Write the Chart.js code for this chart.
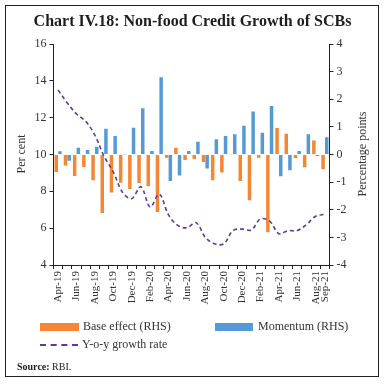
<!DOCTYPE html>
<html>
<head>
<meta charset="utf-8">
<script src="https://cdn.jsdelivr.net/npm/chart.js@4"></script>
<style>
  html, body { margin: 0; padding: 0; background: #fff; }
  #wrap { position: relative; width: 385px; height: 384px; overflow: hidden; font-family: "Liberation Serif", "DejaVu Serif", serif; color: #222; }
  #frame { position: absolute; left: 5px; top: 5px; width: 374px; height: 372px; border: 1px solid #222; box-sizing: border-box; }
  #title { position: absolute; left: 0; width: 385px; top: 12px; text-align: center; font-size: 16px; font-weight: bold; color: #1d1d1d; }
  canvas { position: absolute; left: 0; top: 0; }
  .ytitle { position: absolute; font-size: 12px; white-space: nowrap; transform: translate(-50%, -50%) rotate(-90deg); color: #333; }
  .leg { position: absolute; font-size: 12px; white-space: nowrap; color: #333; }
  .sw { position: absolute; }
  #src { position: absolute; left: 17px; top: 361px; font-size: 10px; color: #222; }
</style>
</head>
<body>
<div id="wrap">
  <canvas id="c" width="385" height="384"></canvas>
  <div id="frame"></div>
  <div id="title">Chart IV.18: Non-food Credit Growth of SCBs</div>
  <div class="ytitle" style="left:21px; top:154px;">Per cent</div>
  <div class="ytitle" style="left:362px; top:154px;">Percentage points</div>
  <div class="sw" style="left:40px; top:323px; width:39px; height:8px; background:#f58634;"></div>
  <div class="leg" style="left:83px; top:319px;">Base effect (RHS)</div>
  <div class="sw" style="left:215px; top:323px; width:38px; height:8px; background:#5599d6;"></div>
  <div class="leg" style="left:258px; top:319px;">Momentum (RHS)</div>
  <div class="sw" style="left:40px; top:344px; width:38px; height:0; border-top:2px dashed #5b3c96;"></div>
  <div class="leg" style="left:82px; top:337px;">Y-o-y growth rate</div>
  <div id="src"><b>Source:</b> RBI.</div>
</div>
<script>
const categories = ["Apr-19","May-19","Jun-19","Jul-19","Aug-19","Sep-19","Oct-19","Nov-19","Dec-19","Jan-20","Feb-20","Mar-20",
  "Apr-20","May-20","Jun-20","Jul-20","Aug-20","Sep-20","Oct-20","Nov-20","Dec-20","Jan-21","Feb-21","Mar-21",
  "Apr-21","May-21","Jun-21","Jul-21","Aug-21","Sep-21"];
const baseEffect = [-0.63,-0.40,-0.78,-0.45,-0.93,-2.12,-1.38,-1.02,-1.25,-1.03,-1.15,-2.08,
  -0.12,0.24,-0.20,-0.16,-0.27,-0.93,-0.65,-0.01,-0.96,-1.66,-0.12,-2.81,
  0.96,0.75,-0.13,-0.46,0.51,-0.53];
const momentum = [0.12,-0.23,0.24,0.16,0.28,0.93,0.67,0.01,0.97,1.67,0.13,2.80,
  -0.96,-0.76,0.13,0.46,-0.51,0.55,0.67,0.73,1.04,1.56,0.79,1.76,
  -0.79,-0.57,0.13,0.73,-0.05,0.62];
const yoyGrowth = [13.5,12.8,12.2,11.8,11.05,9.9,9.05,7.95,7.6,8.25,7.15,7.85,
  6.72,6.15,6.02,6.3,5.5,5.15,5.15,5.87,5.95,5.9,6.5,6.38,
  5.7,5.87,5.87,6.2,6.65,6.75];
const leftTicks = [4,6,8,10,12,14,16];
const rightTicks = [-4,-3,-2,-1,0,1,2,3,4];

const tickFont = { family: "Liberation Serif", size: 12 };
new Chart(document.getElementById('c'), {
  type: 'bar',
  data: {
    labels: categories,
    datasets: [
      { type: 'line', label: 'Y-o-y growth rate', data: yoyGrowth, yAxisID: 'y',
        borderColor: '#5b3c96', borderWidth: 1.6, borderDash: [4, 3], pointRadius: 0,
        tension: 0.35, fill: false, order: 0 },
      { label: 'Base effect (RHS)', data: baseEffect, yAxisID: 'y1', backgroundColor: '#f58634',
        categoryPercentage: 0.8, barPercentage: 0.95, order: 1 },
      { label: 'Momentum (RHS)', data: momentum, yAxisID: 'y1', backgroundColor: '#5599d6',
        categoryPercentage: 0.8, barPercentage: 0.95, order: 1 }
    ]
  },
  options: {
    responsive: false,
    animation: false,
    layout: { padding: { top: 44, left: 0, right: 0, bottom: 0 } },
    plugins: { legend: { display: false }, tooltip: { enabled: false } },
    scales: {
      x: {
        grid: { display: true, drawOnChartArea: false, drawTicks: true, tickLength: 4, color: '#222', offset: true },
        border: { display: true, color: '#222', width: 1 },
        ticks: { autoSkip: false, maxRotation: 90, minRotation: 90, font: { family: "Liberation Serif", size: 11 }, color: '#333', padding: 2,
          callback: function(v, i) { return (i % 2 === 0 || i === categories.length - 1) ? categories[i] : ''; } },
        afterFit: function(s) { s.height = 119; }
      },
      y: {
        position: 'left', min: 4, max: 16,
        afterBuildTicks: function(s) { s.ticks = leftTicks.map(v => ({ value: v })); },
        grid: { drawOnChartArea: false, drawTicks: true, tickLength: 4, color: '#222' },
        border: { display: true, color: '#222', width: 1 },
        ticks: { font: tickFont, color: '#333', padding: 3 },
        afterFit: function(s) { s.width = 53.5; }
      },
      y1: {
        position: 'right', min: -4, max: 4,
        afterBuildTicks: function(s) { s.ticks = rightTicks.map(v => ({ value: v })); },
        grid: { drawOnChartArea: false, drawTicks: true, tickLength: 4, color: '#222' },
        border: { display: true, color: '#222', width: 1 },
        ticks: { font: tickFont, color: '#333', padding: 3 },
        afterFit: function(s) { s.width = 55.5; }
      }
    }
  }
});
</script>
</body>
</html>
